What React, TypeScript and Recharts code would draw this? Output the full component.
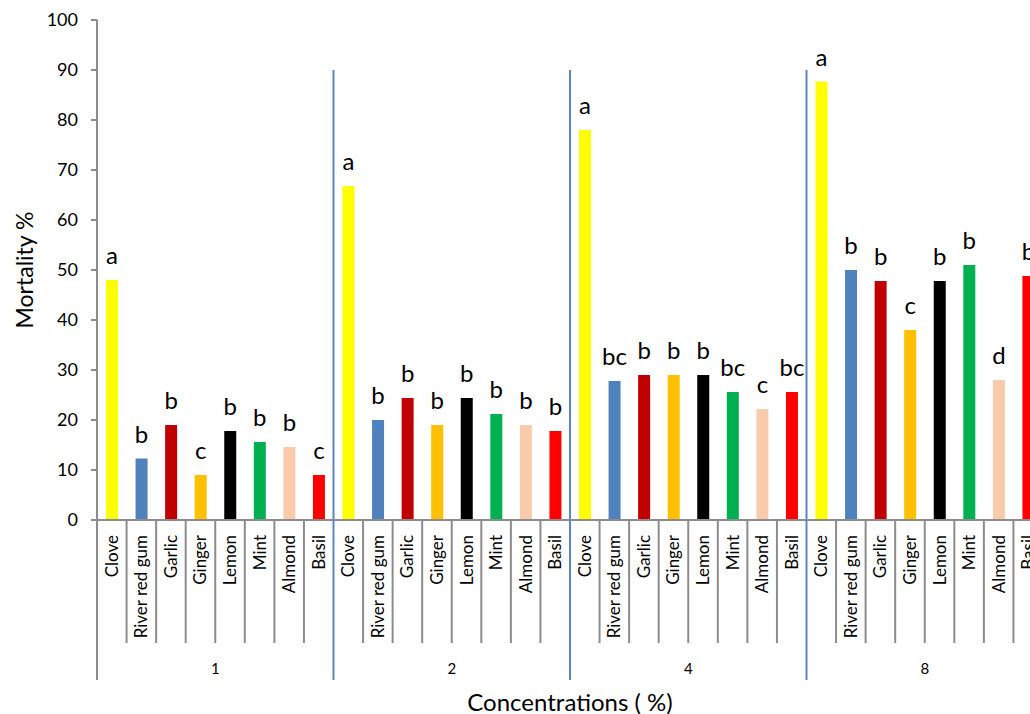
import React from 'react';
import { BarChart, Bar, XAxis, YAxis, Cell, LabelList, ReferenceLine } from 'recharts';

const oils = ['Clove', 'River red gum', 'Garlic', 'Ginger', 'Lemon', 'Mint', 'Almond', 'Basil'];
const oilColors = ['#FFFF00', '#4F81BD', '#C00000', '#FFC000', '#000000', '#00B050', '#F8CBAD', '#FF0000'];
const concentrations = ['1', '2', '4', '8'];

const mortality1 = [48, 12.3, 19, 9, 17.8, 15.6, 14.6, 9];
const mortality2 = [66.8, 20, 24.4, 19, 24.4, 21.2, 19, 17.8];
const mortality4 = [78, 27.8, 29, 29, 29, 25.6, 22.2, 25.6];
const mortality8 = [87.7, 50, 47.8, 38, 47.8, 51, 28, 48.8];

const letters1 = ['a', 'b', 'b', 'c', 'b', 'b', 'b', 'c'];
const letters2 = ['a', 'b', 'b', 'b', 'b', 'b', 'b', 'b'];
const letters4 = ['a', 'bc', 'b', 'b', 'b', 'bc', 'c', 'bc'];
const letters8 = ['a', 'b', 'b', 'c', 'b', 'b', 'd', 'b'];

const yTicks = [0, 10, 20, 30, 40, 50, 60, 70, 80, 90, 100];

const groupValues = [mortality1, mortality2, mortality4, mortality8];
const groupLetters = [letters1, letters2, letters4, letters8];

const data = concentrations.flatMap((c, g) =>
  oils.map((oil, i) => ({
    key: `${c}-${oil}`,
    oil,
    group: c,
    value: groupValues[g][i],
    letter: groupLetters[g][i],
    color: oilColors[i],
  }))
);

const FONT = 'Lato, "Liberation Sans", sans-serif';
const GRAY = '#8C8C8C';
const BLUE = '#5B86C0';

const CategoryTick = (props: any) => {
  const { x, y, payload } = props;
  const idx: number = payload.index;
  const half: number = payload.offset ?? 0;
  const left = x - half;
  const item = data[idx];
  const isGroupStart = idx % 8 === 0;
  const lineColor = isGroupStart && idx > 0 ? BLUE : GRAY;
  const lineLen = isGroupStart ? 160 : 123;
  const tx = x + 6;
  const ty = y + 15;
  return (
    <g>
      <line x1={left} y1={y} x2={left} y2={y + lineLen} stroke={lineColor} strokeWidth={2} />
      <text
        x={tx}
        y={ty}
        transform={`rotate(-90, ${tx}, ${ty})`}
        textAnchor="end"
        fontSize={17}
        fontFamily={FONT}
        fill="#000"
      >
        {item ? item.oil : ''}
      </text>
      {idx % 8 === 3 && (
        <text x={x + half} y={y + 154} textAnchor="middle" fontSize={15} fontFamily={FONT} fill="#000">
          {item ? item.group : ''}
        </text>
      )}
    </g>
  );
};

const YLabel = (props: any) => {
  const vb = props.viewBox || { x: 0, y: 0, width: 0, height: 0 };
  const cx = vb.x + 24;
  const cy = vb.y + vb.height / 2;
  return (
    <text
      x={cx}
      y={cy}
      transform={`rotate(-90, ${cx}, ${cy})`}
      textAnchor="middle"
      dominantBaseline="central"
      fontSize={23}
      fontFamily={FONT}
      fill="#000"
    >
      Mortality %
    </text>
  );
};

export default function App() {
  return (
    <div style={{ position: 'absolute', left: 0, top: 0, width: 1030, height: 714, overflow: 'hidden', background: '#fff' }}>
      <BarChart
        width={1043}
        height={714}
        data={data}
        margin={{ top: 20, right: 0, bottom: 0, left: 0 }}
        barCategoryGap={0}
      >
        <XAxis
          dataKey="key"
          type="category"
          interval={0}
          height={194}
          tickSize={0}
          tickMargin={0}
          tickLine={false}
          axisLine={{ stroke: GRAY, strokeWidth: 2 }}
          tick={<CategoryTick />}
          label={{ value: 'Concentrations ( %)', position: 'insideBottom', offset: 3, fontSize: 24, fontFamily: FONT, fill: '#000' }}
        />
        <YAxis
          domain={[0, 100]}
          ticks={yTicks}
          width={97}
          interval={0}
          tickSize={6}
          tickMargin={13}
          axisLine={{ stroke: GRAY, strokeWidth: 2 }}
          tickLine={{ stroke: GRAY, strokeWidth: 2 }}
          tick={{ fontSize: 18, fontFamily: FONT, fill: '#000' }}
          label={<YLabel />}
        />
        {concentrations.slice(1).map((c) => (
          <ReferenceLine
            key={c}
            segment={[
              { x: `${c}-${oils[0]}`, y: 90 },
              { x: `${c}-${oils[0]}`, y: 0 },
            ]}
            position="start"
            stroke={BLUE}
            strokeWidth={2}
          />
        ))}
        <Bar dataKey="value" barSize={12} isAnimationActive={false}>
          {data.map((d) => (
            <Cell key={d.key} fill={d.color} />
          ))}
          <LabelList dataKey="letter" position="top" offset={16} fontSize={24} fontFamily={FONT} fill="#000" />
        </Bar>
      </BarChart>
    </div>
  );
}
